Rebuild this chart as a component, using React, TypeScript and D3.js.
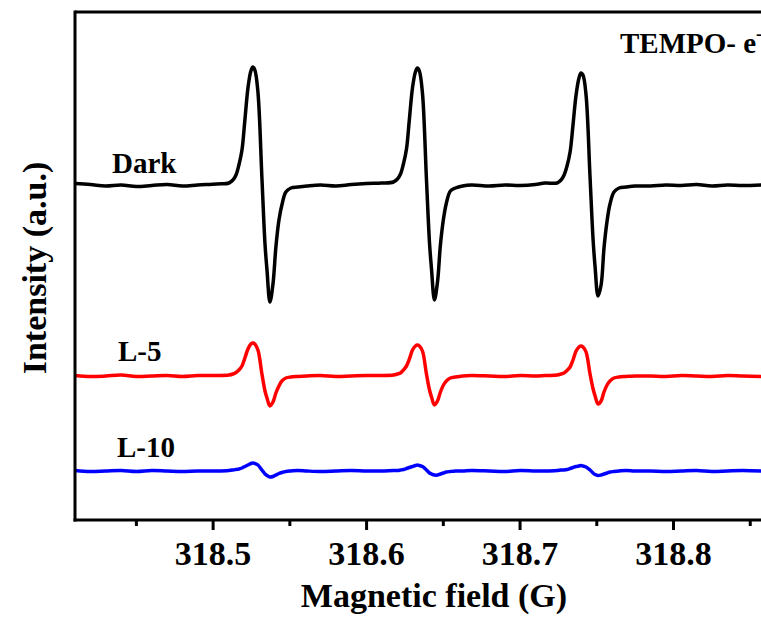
import React from 'react';
import * as d3 from 'd3';

// magnetic field grid (G), denser around the three hyperfine lines
const field = [
  318.410, 318.420, 318.430, 318.440, 318.450, 318.460, 318.470, 318.480, 318.490,
  318.5025, 318.5103, 318.5129, 318.5149, 318.5168, 318.5188, 318.5207, 318.5227, 318.5246, 318.5259, 318.5272, 318.5292,
  318.5318, 318.5338, 318.5351, 318.5370, 318.5390, 318.5409, 318.5429, 318.5448, 318.5474, 318.5507, 318.5553, 318.5611,
  318.570, 318.580, 318.590, 318.600,
  318.6097, 318.6175, 318.6201, 318.6221, 318.6240, 318.6260, 318.6279, 318.6299, 318.6318, 318.6331, 318.6344, 318.6364,
  318.6390, 318.6410, 318.6423, 318.6442, 318.6462, 318.6481, 318.6501, 318.6520, 318.6546, 318.6579, 318.6625, 318.6683,
  318.680, 318.690, 318.700, 318.710,
  318.7163, 318.7241, 318.7267, 318.7287, 318.7306, 318.7326, 318.7345, 318.7365, 318.7384, 318.7397, 318.7410, 318.7430,
  318.7456, 318.7476, 318.7489, 318.7508, 318.7528, 318.7547, 318.7567, 318.7586, 318.7612, 318.7645, 318.7691, 318.7749,
  318.785, 318.795, 318.805, 318.815, 318.825, 318.835, 318.845, 318.857,
];

const darkSignal = [
  1.5, 0.5, -1, 0, -1.5, -0.5, 0.5, -1, 0,
  1, 2, 5, 10, 20, 35, 65, 97, 114, 118, 115, 93,
  7, -59, -85, -117, -99, -62, -35, -20, -7, -3, -2, -1,
  0, -1, 0.5, 1.5,
  2, 3, 6, 11, 21, 36, 66, 97, 113, 117, 114, 92,
  6, -58, -84, -115, -97, -60, -34, -18, -6, -3, -1, 0,
  -1, 0, -0.5, 0.5,
  2, 2, 5, 10, 19, 33, 60, 90, 107, 112, 110, 90,
  8, -55, -82, -111, -100, -63, -36, -19, -7, -3, -2, -1,
  -1, 0, -0.5, 0.5, -1, 0, -0.5, 0,
];

const l5Signal = [
  0.5, -0.5, 0, 1, -0.5, 0, 0.5, -0.5, 0.5,
  0.5, 1, 2, 3.5, 6, 10, 18, 27, 32, 33, 32, 26,
  2, -15, -22, -30, -26, -17, -10, -5, -2, -1, -0.5, 0,
  0.5, -0.5, 0, 0.5,
  0.5, 1, 2, 3, 6, 10, 17, 26, 30, 31, 30, 25,
  2, -14, -21, -29, -25, -16, -9, -5, -2, -1, 0, 0.5,
  0, -0.5, 0.5, 0,
  0.5, 1, 2, 3, 5.5, 9, 16, 25, 29, 30, 29, 24,
  2, -13, -20, -28, -25, -16, -9, -5, -2, -1, -0.5, 0,
  0, -0.5, 0.5, 0, -0.5, 0.5, 0, -0.5,
];

const l10Signal = [
  0.5, -0.5, 0, 0.5, -0.5, 0.5, 0, -0.5, 0,
  0, 0.5, 1, 1.5, 2, 3, 4.5, 6, 7.5, 8, 7.5, 6,
  1, -3, -4.5, -6, -5.5, -4, -2.5, -1.5, -0.5, 0, 0.5, 0,
  -0.5, 0, 0.5, 0,
  0, 0.5, 0.5, 1, 1.5, 2.5, 3.5, 4.5, 5.5, 6, 5.5, 4.5,
  1, -2, -3, -4, -4, -3, -2, -1, -0.5, 0, 0, 0.5,
  0, -0.5, 0.5, 0,
  0, 0.5, 1, 1, 1.5, 2.5, 3.5, 4.5, 5, 5.5, 5, 4,
  1, -2, -3.5, -4.5, -4, -3, -2, -1, -0.5, 0, 0.5, 0,
  0, -0.5, 0, 0.5, -0.5, 0, 0.5, 0,
];

const seriesNames = ['Dark', 'L-5', 'L-10'];
const seriesOffsets = [335, 144, 49];
const seriesColors = ['#000000', '#ff0000', '#0000ff'];
const seriesSignals = [darkSignal, l5Signal, l10Signal];

const majorTicks = [318.5, 318.6, 318.7, 318.8];
const minorTicks = [318.45, 318.55, 318.65, 318.75, 318.85];

const FONT = 'Liberation Serif';

const dims = { width: 761, height: 622, left: 75, right: 761, top: 12, bottom: 520 };

const xScale = d3.scaleLinear().domain([318.41, 318.857]).range([dims.left, dims.right]);
const yScale = d3.scaleLinear().domain([0, 508]).range([dims.bottom, dims.top]);

const line = d3.line<[number, number]>()
  .x(d => xScale(d[0]))
  .y(d => yScale(d[1]))
  .curve(d3.curveCatmullRom.alpha(0.5));

// label placement relative to each trace's baseline
const labelX = [112, 118, 117];
const labelLift = [12, 15, 14];

const App = () => {
  const fmt = d3.format('.1f');
  return (
    <svg
      width={dims.width}
      height={dims.height}
      style={{ position: 'absolute', left: 0, top: 0, background: '#fff' }}
      fontFamily={FONT}
      fontWeight="bold"
    >
      <defs>
        <clipPath id="plot-clip">
          <rect x={dims.left} y={dims.top} width={dims.right - dims.left} height={dims.bottom - dims.top} />
        </clipPath>
      </defs>

      <g clipPath="url(#plot-clip)">
        {seriesSignals.map((sig, i) => (
          <path
            key={seriesNames[i]}
            d={line(field.map((f, j) => [f, sig[j] + seriesOffsets[i]] as [number, number])) || ''}
            fill="none"
            stroke={seriesColors[i]}
            strokeWidth={3.5}
            strokeLinejoin="round"
            strokeLinecap="round"
          />
        ))}
      </g>

      {/* frame */}
      <g stroke="#000" strokeWidth={3} fill="none">
        <line x1={dims.left} x2={dims.left} y1={dims.top - 1.5} y2={dims.bottom + 1.5} />
        <line x1={dims.left} x2={dims.right} y1={dims.top} y2={dims.top} />
        <line x1={dims.left - 1.5} x2={dims.right} y1={dims.bottom} y2={dims.bottom} />
        {majorTicks.map(t => (
          <line key={t} x1={xScale(t)} x2={xScale(t)} y1={dims.bottom} y2={dims.bottom + 10} />
        ))}
        {minorTicks.map(t => (
          <line key={t} x1={xScale(t)} x2={xScale(t)} y1={dims.bottom} y2={dims.bottom + 6} />
        ))}
      </g>

      {majorTicks.map(t => (
        <text key={t} x={xScale(t)} y={dims.bottom + 45} textAnchor="middle" fontSize={34} fill="#000">
          {fmt(t)}
        </text>
      ))}

      <text x={434} y={607} textAnchor="middle" fontSize={34} fill="#000">Magnetic field (G)</text>
      <text transform="translate(46, 268) rotate(-90)" textAnchor="middle" fontSize={34} fill="#000">
        Intensity (a.u.)
      </text>

      {seriesNames.map((name, i) => (
        <text key={name} x={labelX[i]} y={yScale(seriesOffsets[i]) - labelLift[i]} fontSize={29} fill="#000">
          {name}
        </text>
      ))}

      <text x={620} y={53} fontSize={29} fill="#000">
        TEMPO- e<tspan dy={-13} fontSize={18}>-</tspan>
      </text>
    </svg>
  );
};

export default App;
